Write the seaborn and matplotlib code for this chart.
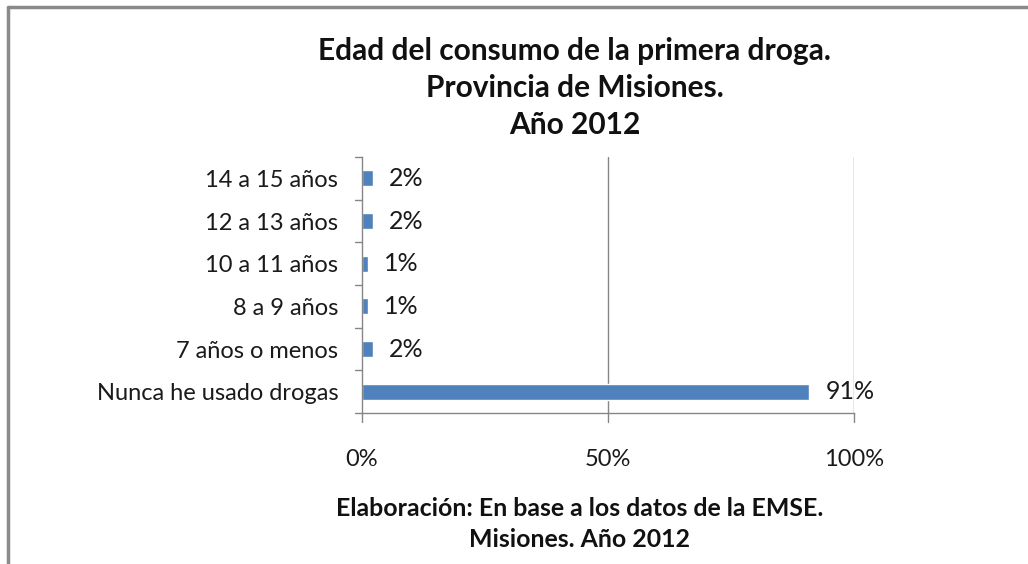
import matplotlib
matplotlib.use("Agg")
import matplotlib.pyplot as plt
from matplotlib.lines import Line2D
import pandas as pd
import seaborn as sns

# data
categories = ["14 a 15 años", "12 a 13 años", "10 a 11 años", "8 a 9 años",
              "7 años o menos", "Nunca he usado drogas"]
values = [2.2, 2.2, 1.2, 1.2, 2.2, 90.9]
labels = ["2%", "2%", "1%", "1%", "2%", "91%"]
x_ticks = [0, 50, 100]
x_tick_labels = ["0%", "50%", "100%"]

sns.set_theme(style="white")
plt.rcParams["font.family"] = ["Lato", "DejaVu Sans"]

df = pd.DataFrame({"cat": categories, "val": values})

fig = plt.figure(figsize=(10.28, 5.64), dpi=100)
ax = fig.add_axes([0.3521, 0.2677, 0.4786, 0.4539])

sns.barplot(data=df, x="val", y="cat", orient="h", color="#4F81BD",
            saturation=1, width=0.38, ax=ax)

ax.set_xlim(0, 100)
ax.set_ylim(5.5, -0.5)
ax.set_xticks(x_ticks)
ax.set_xticklabels(x_tick_labels, fontsize=17, color="#1a1a1a")
ax.set_xlabel("")
ax.set_ylabel("")
ax.tick_params(axis="y", labelsize=17, labelcolor="#1a1a1a", length=0, pad=17)
ax.tick_params(axis="x", pad=26, length=0)

# gridlines
for xv in x_ticks[1:]:
    ax.axvline(xv, color="#868686", lw=1, zorder=0)

# outward tick marks like the original
for b in [i - 0.5 for i in range(7)]:
    ax.plot([-1.5, 0], [b, b], color="#868686", lw=1, clip_on=False)
for xv in x_ticks:
    ax.plot([xv, xv], [5.5, 5.7], color="#868686", lw=1, clip_on=False)

for side in ["top", "right"]:
    ax.spines[side].set_visible(False)
ax.spines["left"].set_color("#868686")
ax.spines["bottom"].set_color("#868686")
ax.spines["left"].set_linewidth(1)
ax.spines["bottom"].set_linewidth(1)

for i, (v, lab) in enumerate(zip(values, labels)):
    ax.text(v + 3.3, i, lab, va="center", ha="left", fontsize=18, color="#1a1a1a")

fig.text(0.559, 0.844, "Edad del consumo de la primera droga.\nProvincia de Misiones.\nAño 2012",
         ha="center", va="center", fontsize=21.5, fontweight="bold",
         linespacing=1.4, color="#111111")
fig.text(0.564, 0.071, "Elaboración: En base a los datos de la EMSE.\nMisiones. Año 2012",
         ha="center", va="center", fontsize=17.9, fontweight="bold",
         linespacing=1.4, color="#111111")

# partial outer frame (top and left edges visible)
fig.add_artist(Line2D([8 / 1028, 1.0], [1 - 7 / 564, 1 - 7 / 564],
                      color="#8a8a8a", lw=2.5, transform=fig.transFigure))
fig.add_artist(Line2D([8 / 1028, 8 / 1028], [0.0, 1 - 7 / 564],
                      color="#8a8a8a", lw=2.5, transform=fig.transFigure))

fig.savefig("out.png", dpi=100, facecolor="white")
